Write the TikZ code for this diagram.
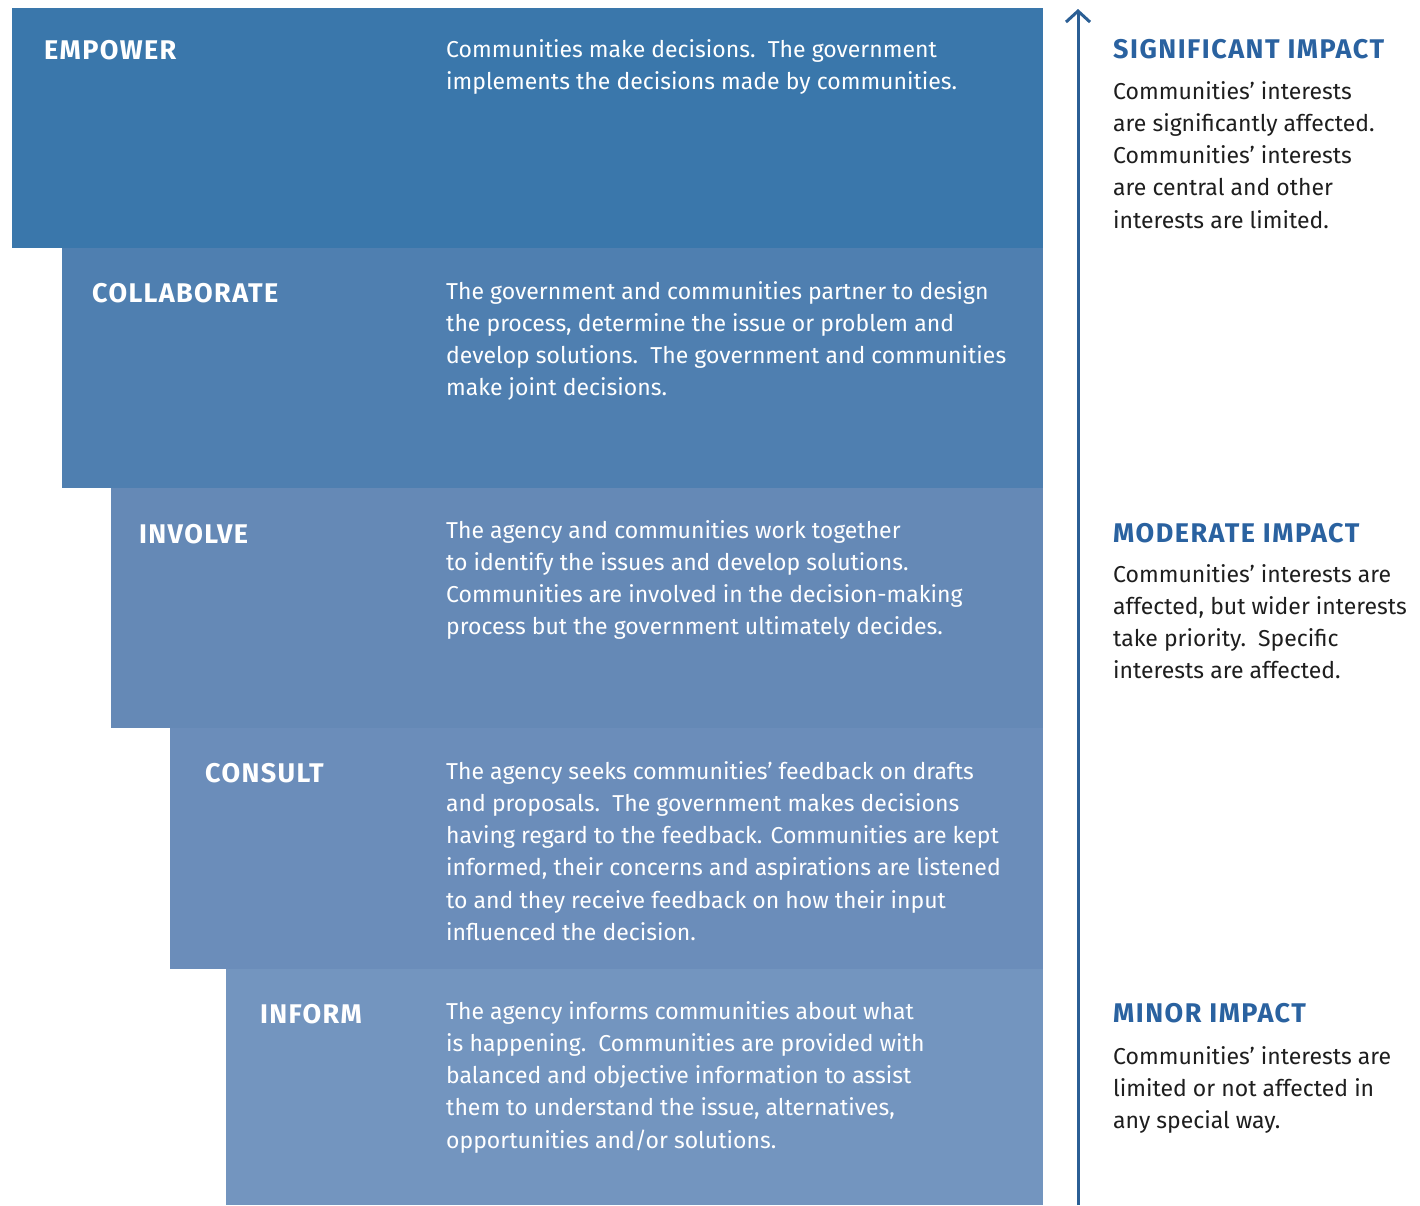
\documentclass[tikz,border=0pt]{standalone}
\usepackage{fontspec}
\setmainfont{Fira Sans}
\usetikzlibrary{arrows.meta}
\definecolor{bandA}{HTML}{3A77AB}
\definecolor{bandB}{HTML}{4F7FB0}
\definecolor{bandC}{HTML}{6589B6}
\definecolor{bandD}{HTML}{6B8DBA}
\definecolor{bandE}{HTML}{7395BF}
\definecolor{axis}{HTML}{2B5F95}
\definecolor{headblue}{HTML}{2A62A0}
\definecolor{bodyink}{HTML}{1E1E1E}
% multi-line nodes are placed by the baseline of their last line
\tikzset{
  level/.style={anchor=base west, inner sep=0pt, text=white,
    font=\fontsize{27}{30}\selectfont\bfseries\addfontfeatures{LetterSpace=5}},
  desc/.style={anchor=base west, inner sep=0pt, text=white, align=left,
    font=\fontsize{23}{32.3}\selectfont},
  impact/.style={anchor=base west, inner sep=0pt, text=headblue,
    font=\fontsize{27}{30}\selectfont\bfseries\addfontfeatures{LetterSpace=5.5}},
  note/.style={anchor=base west, inner sep=0pt, text=bodyink, align=left,
    font=\fontsize{23}{32.3}\selectfont},
}
\begin{document}
\begin{tikzpicture}[x=1pt,y=-1pt]
\useasboundingbox (0,0) rectangle (1420,1205);
\fill[white] (0,0) rectangle (1420,1205);
% stepped bands
\fill[bandA] (12,8) rectangle (1043,248);
\fill[bandB] (62,248) rectangle (1043,488);
\fill[bandC] (111,488) rectangle (1043,728);
\fill[bandD] (170,728) rectangle (1043,969);
\fill[bandE] (226,969) rectangle (1043,1205);
% level names
\node[level] (empower) at (44,59) {EMPOWER};
\node[level] (collab) at (92,302) {COLLABORATE};
\node[level] (involve) at (139,543) {INVOLVE};
\node[level] (consult) at (205,782) {CONSULT};
\node[level] (inform) at (260,1023) {INFORM};
% descriptions
\node[desc] (dA) at (446,89.3) {Communities make decisions.\ \ The government\\implements the decisions made by communities.};
\node[desc] (dB) at (446,395.9) {The government and communities partner to design\\the process, determine the issue or problem and\\develop solutions.\ \ The government and communities\\make joint decisions.};
\node[desc] (dC) at (446,634.9) {The agency and communities work together\\to identify the issues and develop solutions.\\Communities are involved in the decision-making\\process but the government ultimately decides.};
\node[desc] (dD) at (446,940.5) {The agency seeks communities’ feedback on drafts\\and proposals.\ \ The government makes decisions\\having regard to the feedback. Communities are kept\\informed, their concerns and aspirations are listened\\to and they receive feedback on how their input\\influenced the decision.};
\node[desc] (dE) at (446,1148.2) {The agency informs communities about what\\is happening.\ \ Communities are provided with\\balanced and objective information to assist\\them to understand the issue, alternatives,\\opportunities and/or solutions.};
% impact axis
\coordinate (axisbot) at (1078,1205);
\coordinate (axistop) at (1078,9);
\draw[axis, line width=3pt, -{Straight Barb[length=11pt,width=24pt]}] (axisbot) -- (axistop);
% impact levels
\node[impact] (hiA) at (1113,58) {SIGNIFICANT IMPACT};
\node[note] (nA) at (1113,228.2) {Communities’ interests\\are significantly affected.\\Communities’ interests\\are central and other\\interests are limited.};
\node[impact] (hiB) at (1113,542) {MODERATE IMPACT};
\node[note] (nB) at (1113,678.9) {Communities’ interests are\\affected, but wider interests\\take priority.\ \ Specific\\interests are affected.};
\node[impact] (hiC) at (1113,1022) {MINOR IMPACT};
\node[note] (nC) at (1113,1128.6) {Communities’ interests are\\limited or not affected in\\any special way.};
\end{tikzpicture}
\end{document}
